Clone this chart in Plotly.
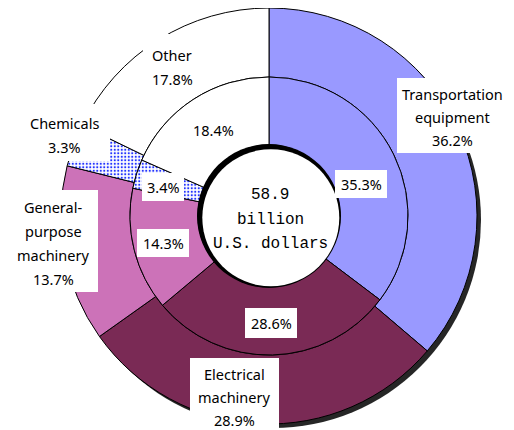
import plotly.graph_objects as go

# ---------------- data ----------------
categories = ["Transportation equipment", "Electrical machinery",
              "General-purpose machinery", "Chemicals", "Other"]
outer_values = [36.2, 28.9, 13.7, 3.3, 17.8]   # outer ring (%)
inner_values = [35.3, 28.6, 14.3, 3.4, 18.4]   # inner ring (%)
outer_label_lines = [["Transportation", "equipment"], ["Electrical", "machinery"],
                     ["General-", "purpose", "machinery"], ["Chemicals"], ["Other"]]
center_lines = ["58.9", "billion", "U.S. dollars"]

# ---------------- style / layout ----------------
OFF = 8                      # page body margin
W, H = 514 - OFF, 430 - OFF  # figure size so that the page fits the window
CX, CY = 269, 216            # page pixel coordinates of the ring centre
R_OUT, R_MID, R_HOLE = 208, 139, 71
colors = ["#9999FF", "#7A2A55", "#CC72B8", "#FFFFFF", "#FFFFFF"]
pattern_shapes = ["", "", "", ".", ""]
LABEL_FONT = dict(family="Noto Sans", size=14.5, color="black")
CENTER_FONT = dict(family="Liberation Mono", size=16, color="black")

# label layout: center x, first-line y, line step, box (x0,y0,x1,y1) in page px
outer_label_pos = [
    (452, 94, 23, (397, 78, 503, 153)),
    (234, 374, 23, (190, 358, 279, 440)),
    (53, 207, 24, (8, 190, 98, 292)),
    (64, 123, 24, (14, 104, 110, 161)),
    (172, 55, 24, (143, 34, 203, 92)),
]
inner_label_pos = [
    (361, 184, (335, 170, 387, 198)),
    (271, 323, (245, 308, 297, 338)),
    (163, 243, (137, 229, 189, 257)),
    (163, 187, (142, 173, 184, 201)),
    (213, 130, None),
]


def px(x):
    return (x - OFF) / W


def py(y):
    return 1 - (y - OFF) / H


fig = go.Figure()

pattern = dict(shape=pattern_shapes, fgcolor="#2233FF", size=3.5, solidity=0.3)

fig.add_trace(go.Pie(
    values=outer_values, labels=categories, sort=False, direction="clockwise",
    rotation=0, hole=R_MID / R_OUT, textinfo="none", hoverinfo="skip",
    marker=dict(colors=colors, line=dict(color="black", width=1), pattern=pattern),
    domain=dict(x=[px(CX - R_OUT), px(CX + R_OUT)], y=[py(CY + R_OUT), py(CY - R_OUT)]),
    showlegend=False,
))
fig.add_trace(go.Pie(
    values=inner_values, labels=categories, sort=False, direction="clockwise",
    rotation=0, hole=R_HOLE / R_MID, textinfo="none", hoverinfo="skip",
    marker=dict(colors=colors, line=dict(color="black", width=1), pattern=pattern),
    domain=dict(x=[px(CX - R_MID), px(CX + R_MID)], y=[py(CY + R_MID), py(CY - R_MID)]),
    showlegend=False,
))

shapes = []
# drop shadow beneath the outer ring
shapes.append(dict(type="circle", xref="paper", yref="paper", layer="below",
                   x0=px(CX + 4 - R_OUT), x1=px(CX + 4 + R_OUT),
                   y0=py(CY + 4 + R_OUT), y1=py(CY + 4 - R_OUT),
                   fillcolor="rgba(0,0,0,0.85)", line=dict(width=0)))
# inset shadow in the hole
shapes.append(dict(type="circle", xref="paper", yref="paper", layer="above",
                   x0=px(CX - R_HOLE - 1), x1=px(CX + R_HOLE + 1),
                   y0=py(CY + R_HOLE + 1), y1=py(CY - R_HOLE - 1),
                   fillcolor="black", line=dict(width=0)))
rw = R_HOLE - 2.5
shapes.append(dict(type="circle", xref="paper", yref="paper", layer="above",
                   x0=px(CX + 1.8 - rw), x1=px(CX + 1.8 + rw),
                   y0=py(CY + 1.8 + rw), y1=py(CY + 1.8 - rw),
                   fillcolor="white", line=dict(width=0)))

annotations = []
for lines, val, (lx, ly, step, box) in zip(outer_label_lines, outer_values, outer_label_pos):
    x0, y0, x1, y1 = box
    shapes.append(dict(type="rect", xref="paper", yref="paper", layer="above",
                       x0=px(x0), x1=px(x1), y0=py(y1), y1=py(y0),
                       fillcolor="white", line=dict(width=0)))
    for i, t in enumerate(lines + [f"{val:.1f}%"]):
        annotations.append(dict(x=px(lx), y=py(ly + i * step), xref="paper", yref="paper",
                                text=t, showarrow=False, font=LABEL_FONT,
                                xanchor="center", yanchor="middle"))
for val, (lx, ly, box) in zip(inner_values, inner_label_pos):
    if box is not None:
        x0, y0, x1, y1 = box
        shapes.append(dict(type="rect", xref="paper", yref="paper", layer="above",
                           x0=px(x0), x1=px(x1), y0=py(y1), y1=py(y0),
                           fillcolor="white", line=dict(width=0)))
    annotations.append(dict(x=px(lx), y=py(ly), xref="paper", yref="paper",
                            text=f"{val:.1f}%", showarrow=False, font=LABEL_FONT,
                            xanchor="center", yanchor="middle"))
for i, t in enumerate(center_lines):
    annotations.append(dict(x=px(CX + 1), y=py(195 + i * 24.5), xref="paper", yref="paper",
                            text=t, showarrow=False, font=CENTER_FONT,
                            xanchor="center", yanchor="middle"))

fig.update_layout(width=W, height=H, margin=dict(l=0, r=0, t=0, b=0),
                  paper_bgcolor="white", plot_bgcolor="white",
                  shapes=shapes, annotations=annotations, showlegend=False)

fig.write_html("out.html")
